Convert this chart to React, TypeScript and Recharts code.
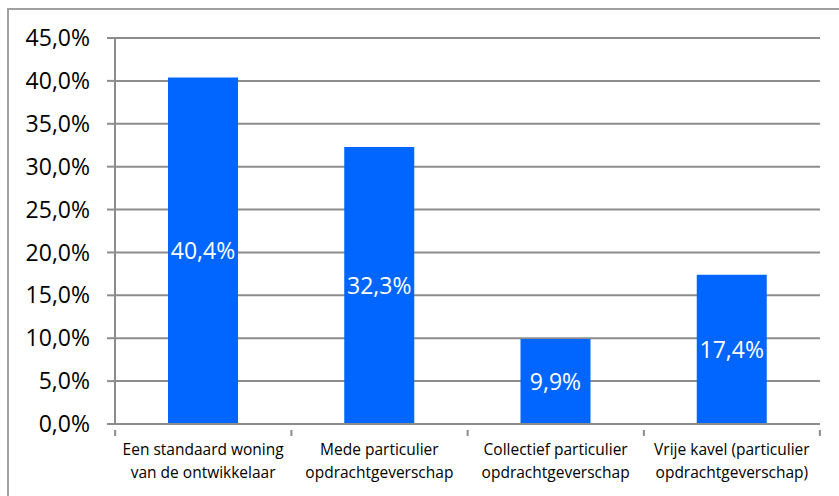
import { BarChart, Bar, XAxis, YAxis, CartesianGrid, LabelList } from 'recharts'

const categories = [
  ['Een standaard woning', 'van de ontwikkelaar'],
  ['Mede particulier', 'opdrachtgeverschap'],
  ['Collectief particulier', 'opdrachtgeverschap'],
  ['Vrije kavel (particulier', 'opdrachtgeverschap)'],
]
const shares = [40.4, 32.3, 9.9, 17.4]
const yTicks = [0, 5, 10, 15, 20, 25, 30, 35, 40, 45]

const data = categories.map((lines, i) => ({ name: lines.join('\n'), value: shares[i] }))

const FONT = '"Open Sans", sans-serif'
const GRID = '#8c8c8c'

const pct = (v: number) => `${v.toFixed(1).replace('.', ',')}%`

// category labels plus the tick marks at the category boundaries
function CategoryTick(props: any) {
  const { x, y, payload, index } = props
  const half = 88
  const lines = String(payload.value).split('\n')
  return (
    <g>
      <line x1={x - half} y1={y - 8} x2={x - half} y2={y - 2} stroke={GRID} strokeWidth={2} />
      {index === categories.length - 1 && (
        <line x1={x + half} y1={y - 8} x2={x + half} y2={y - 2} stroke={GRID} strokeWidth={2} />
      )}
      <text x={x} y={y} textAnchor="middle" fill="#000" fontSize={15.5} fontFamily={FONT}>
        {lines.map((l, i) => (
          <tspan key={i} x={x} dy={i === 0 ? 17 : 23}>
            {l}
          </tspan>
        ))}
      </text>
    </g>
  )
}

export default function App() {
  return (
    <div style={{ position: 'absolute', left: 0, top: 0, width: 839, height: 496, background: '#fff' }}>
      <div
        style={{
          position: 'absolute',
          left: 7,
          top: 8,
          width: 840,
          height: 500,
          border: '2px solid #a0a0a0',
          boxSizing: 'border-box',
        }}
      />
      <BarChart
        width={839}
        height={496}
        data={data}
        margin={{ top: 38, right: 19, bottom: 0, left: 0 }}
      >
        <CartesianGrid vertical={false} stroke={GRID} strokeWidth={2} />
        <XAxis
          dataKey="name"
          interval={0}
          height={72}
          tickLine={false}
          axisLine={{ stroke: GRID, strokeWidth: 2 }}
          tick={<CategoryTick />}
          tickMargin={8}
        />
        <YAxis
          domain={[0, 45]}
          ticks={yTicks}
          width={115}
          tickSize={8}
          tickMargin={17}
          tickFormatter={pct}
          axisLine={{ stroke: GRID, strokeWidth: 2 }}
          tickLine={{ stroke: GRID, strokeWidth: 2 }}
          tick={{ fill: '#000', fontSize: 23, fontFamily: FONT }}
        />
        <Bar dataKey="value" fill="#0066ff" barSize={70} isAnimationActive={false}>
          <LabelList
            dataKey="value"
            position="center"
            formatter={(v: any) => pct(Number(v))}
            fill="#fff"
            fontSize={23}
            fontFamily={FONT}
          />
        </Bar>
      </BarChart>
    </div>
  )
}
